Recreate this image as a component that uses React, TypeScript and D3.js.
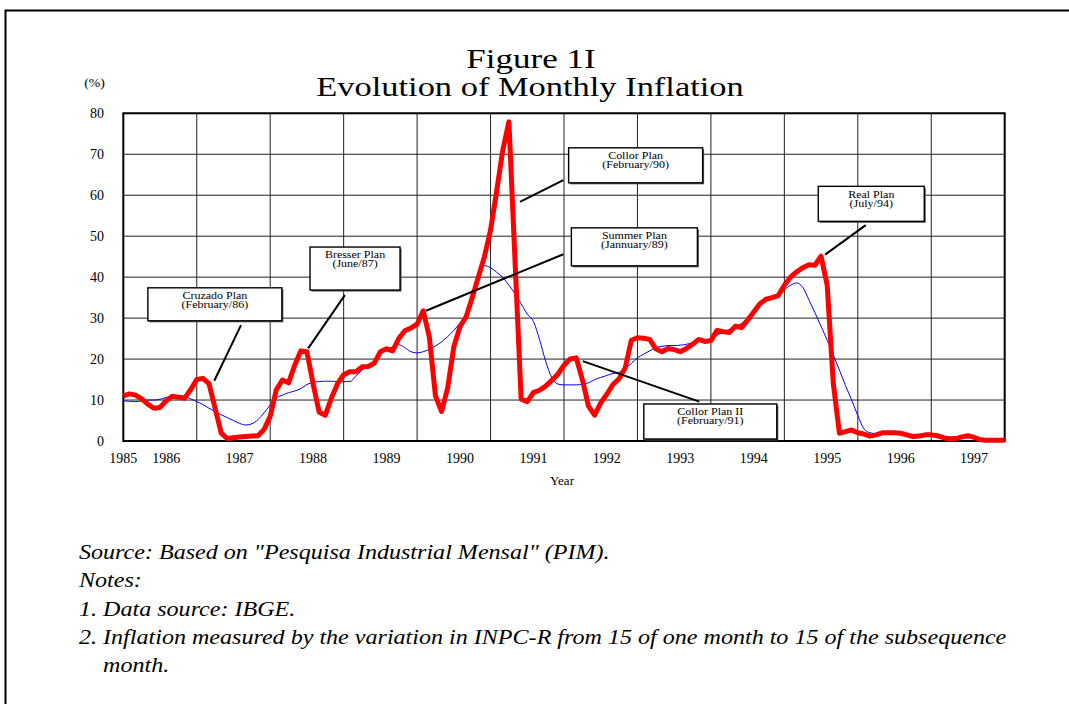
import * as d3 from "d3";
import React from "react";

// monthly values, June 1985 .. June 1997
const monthlyInflation = [
  11.0, 11.5, 11.2, 10.3, 9.0, 8.0, 8.2, 9.8, 10.9, 10.7, 10.4, 12.5,
  15.0, 15.3, 14.0, 8.0, 1.9, 0.6, 0.8, 1.0, 1.1, 1.2, 1.3, 2.8,
  6.0, 12.5, 14.9, 14.2, 18.5, 22.0, 21.8, 14.0, 7.0, 6.3, 10.5, 14.0,
  16.2, 16.9, 16.9, 18.1, 18.2, 19.0, 21.8, 22.5, 22.0, 25.0, 26.9, 27.6,
  28.5, 31.8, 25.4, 11.0, 7.2, 13.0, 23.0, 27.9, 30.3, 35.0, 40.0, 45.0,
  51.5, 61.0, 71.0, 77.9, 44.0, 10.2, 9.6, 11.8, 12.4, 13.4, 14.8, 16.3,
  18.5, 20.0, 20.3, 15.0, 8.5, 6.3, 9.3, 11.4, 13.8, 15.2, 17.8, 24.6,
  25.2, 25.1, 24.8, 22.5, 21.8, 22.6, 22.3, 21.8, 22.6, 23.6, 24.8, 24.3,
  24.5, 27.0, 26.7, 26.5, 28.0, 27.7, 29.5, 31.5, 33.5, 34.6, 35.0, 35.5,
  38.0, 40.0, 41.3, 42.3, 43.0, 42.9, 45.1, 38.0, 14.0, 1.9, 2.3, 2.7,
  2.0, 1.7, 1.2, 1.5, 2.0, 2.0, 2.0, 1.9, 1.5, 1.1, 1.2, 1.5,
  1.5, 1.3, 0.8, 0.5, 0.6, 1.0, 1.3, 0.9, 0.3, 0.2, 0.2, 0.2,
  0.2,
];

const smoothedInflation = [
  9.8, 9.7, 9.6, 9.8, 10.0, 10.0, 10.2, 10.6, 11.0, 11.1, 10.9, 10.3,
  9.6, 8.9, 8.0, 7.2, 6.4, 5.7, 5.0, 4.3, 3.9, 4.2, 5.2, 6.9,
  8.8, 10.5, 11.2, 11.8, 12.2, 12.8, 13.8, 14.3, 14.5, 14.6, 14.6, 14.5,
  14.5, 14.5, 15.8, 17.3, 18.3, 19.7, 21.1, 22.2, 23.0, 23.5, 22.8, 21.8,
  21.5, 21.8, 22.4, 23.2, 24.2, 25.5, 27.0, 28.8, 30.8, 34.3, 39.5, 42.8,
  42.3, 41.2, 39.9, 38.0, 36.0, 33.5, 31.0, 29.2, 24.8, 19.5, 15.5, 13.9,
  13.7, 13.7, 13.7, 13.9, 14.2, 15.0, 15.5, 16.0, 16.5, 16.8, 17.8, 18.9,
  20.3, 21.2, 22.0, 22.8, 23.1, 23.3, 23.3, 23.4, 23.6, 24.0, 24.3, 24.6,
  25.0, 25.8, 26.6, 27.2, 27.9, 28.7, 30.2, 32.0, 33.6, 34.6, 35.3, 36.0,
  37.0, 38.0, 38.6, 37.5, 34.5, 31.3, 28.0, 24.6, 21.0, 17.3, 13.5, 10.0,
  6.2, 3.0, 2.0, 1.8, 1.7, 1.7, 1.6, 1.6, 1.5, 1.5, 1.5, 1.4,
  1.3, 1.2, 1.1, 1.0, 0.9, 0.8, 0.8, 0.7, 0.7, 0.6, 0.6, 0.6,
  0.6,
];

const yearLabels = ["1985", "1986", "1987", "1988", "1989", "1990", "1991", "1992", "1993", "1994", "1995", "1996", "1997"];
const yearLabelMonth = [0, 7, 19, 31, 43, 55, 67, 79, 91, 103, 115, 127, 139];
const yTicks = [0, 10, 20, 30, 40, 50, 60, 70, 80];

const planNames = ["Cruzado Plan", "Bresser Plan", "Collor Plan", "Summer Plan", "Collor Plan II", "Real Plan"];
const planDates = ["(February/86)", "(June/87)", "(February/90)", "(Jannuary/89)", "(February/91)", "(July/94)"];
// box centre [month, %], leader line from [month, %] to [month, %]
const planBoxAt = [[14.96, 33.37], [37.86, 42.1], [83.7, 67.3], [83.5, 47.4], [95.9, 4.76], [122.2, 57.9]];
const planLineFrom = [[19.23, 28.3], [36.2, 35.6], [71.9, 63.7], [71.9, 45.6], [75.07, 19.5], [121.3, 52.7]];
const planLineTo = [[14.87, 14.7], [30.2, 22.6], [64.8, 58.4], [49.46, 31.8], [94.1, 9.6], [114.66, 45.5]];
const planBoxSize = [[134, 33], [90, 43], [134, 35], [126, 38], [133, 35], [106, 35]];

const notes = [
  'Source: Based on "Pesquisa Industrial Mensal" (PIM).',
  "Notes:",
  "1. Data source: IBGE.",
  "2. Inflation measured by the variation in INPC-R from 15 of one month to 15 of the subsequence",
  "month.",
];

const W = 1069;
const H = 704;
const margin = { top: 113.3, right: 64.3, bottom: 263, left: 123.3 };
const serif = "'Liberation Serif', 'Times New Roman', serif";

// the original typesetting is a little wider than Liberation Serif
function Wide({ x, y, sx, anchor = "start", size, italic = false, children }: any) {
  return (
    <text
      transform={`translate(${x},${y}) scale(${sx},1)`}
      textAnchor={anchor}
      fontSize={size}
      fontStyle={italic ? "italic" : "normal"}
    >
      {children}
    </text>
  );
}

export default function App() {
  const x = d3.scaleLinear().domain([0, 144]).range([margin.left, W - margin.right]);
  const y = d3.scaleLinear().domain([0, 80]).range([H - margin.bottom, margin.top]);

  const red = d3
    .line<number>()
    .x((d, i) => x(i))
    .y((d) => y(d));
  const blue = d3
    .line<number>()
    .x((d, i) => x(i))
    .y((d) => y(d))
    .curve(d3.curveMonotoneX);

  const gridMonths = d3.range(12, 144, 12);

  return (
    <svg width={W} height={H} style={{ position: "absolute", left: 0, top: 0, background: "#fff" }} fontFamily={serif}>
      <path d={`M5.5,${H + 5}V10.5H${W + 5}`} fill="none" stroke="#000" strokeWidth={2} />

      <Wide x={531} y={68} sx={1.25} anchor="middle" size={28}>Figure 1I</Wide>
      <Wide x={530} y={96} sx={1.23} anchor="middle" size={28}>Evolution of Monthly Inflation</Wide>
      <Wide x={94.5} y={87} sx={1.15} anchor="middle" size={12}>(%)</Wide>

      {yTicks.map((t) => (
        <g key={t}>
          <line x1={x(0)} x2={x(144)} y1={y(t)} y2={y(t)} stroke="#222" strokeWidth={1} />
          <text x={104} y={y(t) + 5} textAnchor="end" fontSize={14}>{t}</text>
        </g>
      ))}
      {gridMonths.map((m) => (
        <line key={m} x1={x(m)} x2={x(m)} y1={y(0)} y2={y(80)} stroke="#222" strokeWidth={1} />
      ))}
      <rect x={x(0)} y={y(80)} width={x(144) - x(0)} height={y(0) - y(80)} fill="none" stroke="#000" strokeWidth={2} />

      {yearLabels.map((l, i) => (
        <text key={l} x={x(yearLabelMonth[i])} y={463} textAnchor="middle" fontSize={14}>{l}</text>
      ))}
      <text x={562} y={485} textAnchor="middle" fontSize={13}>Year</text>

      <path d={blue(smoothedInflation) || ""} fill="none" stroke="#0000ff" strokeWidth={1} />
      <path d={red(monthlyInflation) || ""} fill="none" stroke="#ff0000" strokeWidth={5} strokeLinejoin="round" />

      {planNames.map((name, i) => {
        const [bw, bh] = planBoxSize[i];
        const cx = x(planBoxAt[i][0]);
        const cy = y(planBoxAt[i][1]);
        const top = cy - bh / 2;
        return (
          <g key={name}>
            <line
              x1={x(planLineFrom[i][0])}
              y1={y(planLineFrom[i][1])}
              x2={x(planLineTo[i][0])}
              y2={y(planLineTo[i][1])}
              stroke="#000"
              strokeWidth={2}
            />
            <rect x={cx - bw / 2 + 1.5} y={top + 1.5} width={bw} height={bh} fill="#555" />
            <rect x={cx - bw / 2} y={top} width={bw} height={bh} fill="#fff" stroke="#000" strokeWidth={1.4} />
            <Wide x={cx} y={top + 11.4} sx={1.25} anchor="middle" size={9.6}>{name}</Wide>
            <Wide x={cx} y={top + 20.4} sx={1.25} anchor="middle" size={9.6}>{planDates[i]}</Wide>
          </g>
        );
      })}

      {notes.map((n, i) => (
        <Wide key={i} x={i === 4 ? 103 : 79} y={[559, 587, 616, 644, 672][i]} sx={1.12} size={21.5} italic>
          {n}
        </Wide>
      ))}
    </svg>
  );
}
